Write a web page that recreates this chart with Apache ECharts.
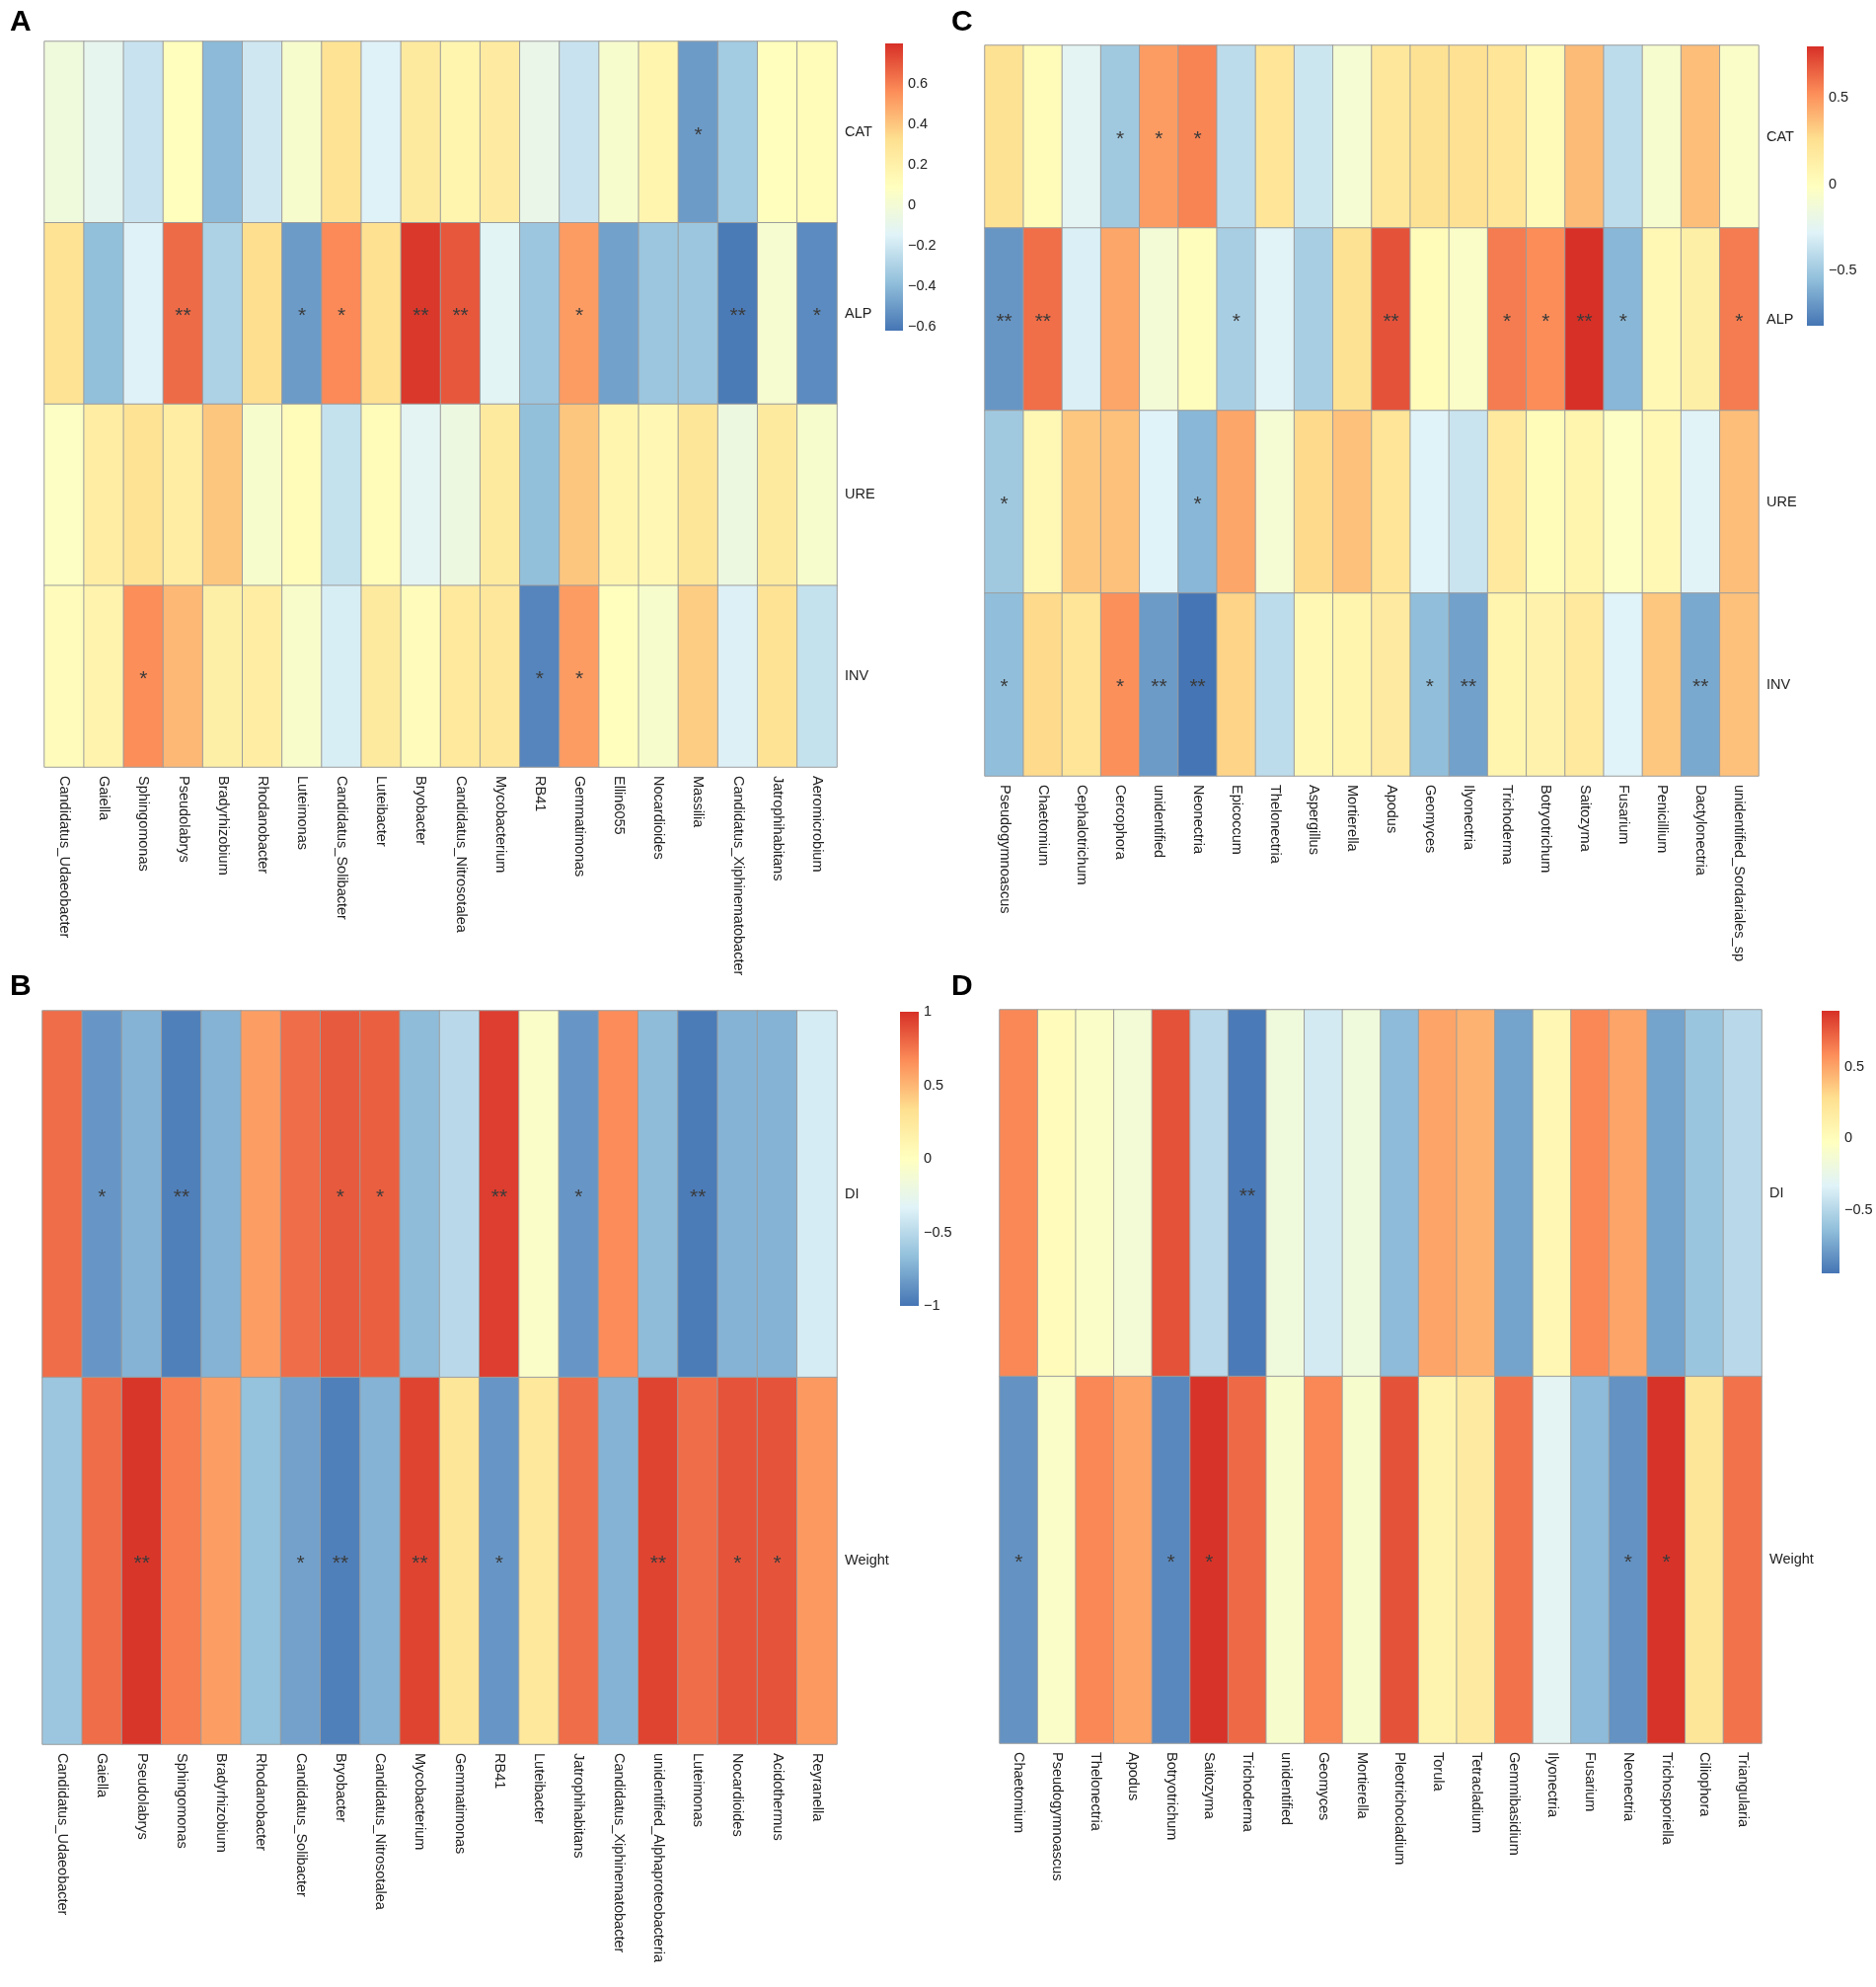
<!DOCTYPE html>
<html>
<head>
<meta charset="utf-8">
<script src="https://cdn.jsdelivr.net/npm/echarts@6/dist/echarts.min.js"></script>
<style>
html,body{margin:0;padding:0;background:#fff;}
#main{width:1901px;height:2013px;}
</style>
</head>
<body>
<div id="main"></div>
<script>
// palette (rev RdYlBu, 7 colours)
var palette = ['#4575B4', '#91BFDB', '#E0F3F8', '#FFFFBF', '#FEE090', '#FC8D59', '#D73027'];

// ---------- panel A : bacteria vs enzymes ----------
var genusA = ['Candidatus_Udaeobacter', 'Gaiella', 'Sphingomonas', 'Pseudolabrys', 'Bradyrhizobium', 'Rhodanobacter',
  'Luteimonas', 'Candidatus_Solibacter', 'Luteibacter', 'Bryobacter', 'Candidatus_Nitrosotalea', 'Mycobacterium',
  'RB41', 'Gemmatimonas', 'Ellin6055', 'Nocardioides', 'Massilia', 'Candidatus_Xiphinematobacter',
  'Jatrophihabitans', 'Aeromicrobium'];
var rowsA = ['CAT', 'ALP', 'URE', 'INV'];
var catA = [-0.03, -0.1, -0.22, 0.1, -0.4, -0.2, 0.03, 0.3, -0.15, 0.25, 0.17, 0.24, -0.08, -0.22, 0.03, 0.17, -0.5, -0.33, 0.1, 0.12];
var alpA = [0.3, -0.38, -0.15, 0.65, -0.3, 0.33, -0.5, 0.57, 0.32, 0.78, 0.7, -0.13, -0.35, 0.52, -0.48, -0.35, -0.35, -0.6, 0.02, -0.55];
var ureA = [0.07, 0.23, 0.3, 0.23, 0.4, 0.03, 0.12, -0.23, 0.12, -0.12, -0.05, 0.25, -0.38, 0.4, 0.17, 0.15, 0.28, -0.05, 0.25, 0.03];
var invA = [0.11, 0.18, 0.56, 0.44, 0.21, 0.23, 0.04, -0.17, 0.25, 0.11, 0.26, 0.27, -0.57, 0.52, 0.1, 0.03, 0.38, -0.16, 0.3, -0.23];
var sigCatA = [0, 0, 0, 0, 0, 0, 0, 0, 0, 0, 0, 0, 0, 0, 0, 0, 1, 0, 0, 0];
var sigAlpA = [0, 0, 0, 2, 0, 0, 1, 1, 0, 2, 2, 0, 0, 1, 0, 0, 0, 2, 0, 1];
var sigUreA = [0, 0, 0, 0, 0, 0, 0, 0, 0, 0, 0, 0, 0, 0, 0, 0, 0, 0, 0, 0];
var sigInvA = [0, 0, 1, 0, 0, 0, 0, 0, 0, 0, 0, 0, 1, 1, 0, 0, 0, 0, 0, 0];
var ticksA = [-0.6, -0.4, -0.2, 0, 0.2, 0.4, 0.6];

// ---------- panel C : fungi vs enzymes ----------
var genusC = ['Pseudogymnoascus', 'Chaetomium', 'Cephalotrichum', 'Cercophora', 'unidentified', 'Neonectria',
  'Epicoccum', 'Thelonectria', 'Aspergillus', 'Mortierella', 'Apodus', 'Geomyces', 'Ilyonectria', 'Trichoderma',
  'Botryotrichum', 'Saitozyma', 'Fusarium', 'Penicillium', 'Dactylonectria', 'unidentified_Sordariales_sp'];
var rowsC = ['CAT', 'ALP', 'URE', 'INV'];
var catC = [0.24, 0.02, -0.25, -0.5, 0.48, 0.56, -0.4, 0.22, -0.35, -0.1, 0.2, 0.24, 0.25, 0.22, 0.03, 0.38, -0.4, -0.08, 0.37, -0.05];
var alpC = [-0.7, 0.62, -0.3, 0.45, -0.12, 0.01, -0.47, -0.27, -0.47, 0.24, 0.7, 0.02, -0.05, 0.58, 0.53, 0.8, -0.58, 0.05, 0.13, 0.58];
var ureC = [-0.5, 0.05, 0.34, 0.36, -0.28, -0.58, 0.45, -0.1, 0.28, 0.36, 0.22, -0.28, -0.36, 0.18, 0.02, 0.08, -0.04, 0.05, -0.27, 0.37];
var invC = [-0.55, 0.28, 0.22, 0.52, -0.68, -0.82, 0.3, -0.4, 0.05, 0.08, 0.17, -0.55, -0.66, 0.08, 0.1, 0.18, -0.28, 0.34, -0.63, 0.36];
var sigCatC = [0, 0, 0, 1, 1, 1, 0, 0, 0, 0, 0, 0, 0, 0, 0, 0, 0, 0, 0, 0];
var sigAlpC = [2, 2, 0, 0, 0, 0, 1, 0, 0, 0, 2, 0, 0, 1, 1, 2, 1, 0, 0, 1];
var sigUreC = [1, 0, 0, 0, 0, 1, 0, 0, 0, 0, 0, 0, 0, 0, 0, 0, 0, 0, 0, 0];
var sigInvC = [1, 0, 0, 1, 2, 2, 0, 0, 0, 0, 0, 1, 2, 0, 0, 0, 0, 0, 2, 0];
var ticksC = [-0.5, 0, 0.5];

// ---------- panel B : bacteria vs DI / weight ----------
var genusB = ['Candidatus_Udaeobacter', 'Gaiella', 'Pseudolabrys', 'Sphingomonas', 'Bradyrhizobium', 'Rhodanobacter',
  'Candidatus_Solibacter', 'Bryobacter', 'Candidatus_Nitrosotalea', 'Mycobacterium', 'Gemmatimonas', 'RB41',
  'Luteibacter', 'Jatrophihabitans', 'Candidatus_Xiphinematobacter', 'unidentified_Alphaproteobacteria',
  'Luteimonas', 'Nocardioides', 'Acidothermus', 'Reyranella'];
var rowsB = ['DI', 'Weight'];
var diB = [0.78, -0.85, -0.72, -0.95, -0.72, 0.6, 0.78, 0.85, 0.83, -0.68, -0.5, 0.95, -0.05, -0.85, 0.67, -0.68, -0.97, -0.72, -0.72, -0.38];
var weightB = [-0.62, 0.78, 0.98, 0.72, 0.6, -0.65, -0.8, -0.95, -0.72, 0.93, 0.27, -0.85, 0.25, 0.78, -0.72, 0.93, 0.78, 0.87, 0.87, 0.62];
var sigDiB = [0, 1, 0, 2, 0, 0, 0, 1, 1, 0, 0, 2, 0, 1, 0, 0, 2, 0, 0, 0];
var sigWeightB = [0, 0, 2, 0, 0, 0, 1, 2, 0, 2, 0, 1, 0, 0, 0, 2, 0, 1, 1, 0];
var ticksB = [-1, -0.5, 0, 0.5, 1];

// ---------- panel D : fungi vs DI / weight ----------
var genusD = ['Chaetomium', 'Pseudogymnoascus', 'Thelonectria', 'Apodus', 'Botryotrichum', 'Saitozyma', 'Trichoderma',
  'unidentified', 'Geomyces', 'Mortierella', 'Pleotrichocladium', 'Torula', 'Tetracladium', 'Gemmibasidium',
  'Ilyonectria', 'Fusarium', 'Neonectria', 'Trichosporiella', 'Ciliophora', 'Triangularia'];
var rowsD = ['DI', 'Weight'];
var diD = [0.6, 0.0, -0.07, -0.15, 0.78, -0.48, -0.92, -0.18, -0.38, -0.18, -0.65, 0.5, 0.45, -0.75, 0.05, 0.6, 0.5, -0.75, -0.6, -0.48];
var weightD = [-0.82, -0.07, 0.6, 0.5, -0.86, 0.88, 0.7, -0.1, 0.6, -0.1, 0.78, 0.08, 0.17, 0.67, -0.3, -0.65, -0.82, 0.88, 0.22, 0.67];
var sigDiD = [0, 0, 0, 0, 0, 0, 2, 0, 0, 0, 0, 0, 0, 0, 0, 0, 0, 0, 0, 0];
var sigWeightD = [1, 0, 0, 0, 1, 1, 0, 0, 0, 0, 0, 0, 0, 0, 0, 0, 1, 1, 0, 0];
var ticksD = [-0.5, 0, 0.5];

var panels = [
  {letter: 'A', genus: genusA, rows: rowsA, vals: [catA, alpA, ureA, invA], sig: [sigCatA, sigAlpA, sigUreA, sigInvA],
   min: -0.62, max: 0.8, ticks: ticksA,
   grid: {left: 45, top: 42, width: 803, height: 735}, bar: {left: 897, top: 44, width: 18, height: 291},
   lx: 10, ly: 8},
  {letter: 'C', genus: genusC, rows: rowsC, vals: [catC, alpC, ureC, invC], sig: [sigCatC, sigAlpC, sigUreC, sigInvC],
   min: -0.82, max: 0.8, ticks: ticksC,
   grid: {left: 998, top: 46, width: 784, height: 740}, bar: {left: 1831, top: 47, width: 17, height: 283},
   lx: 964, ly: 8},
  {letter: 'B', genus: genusB, rows: rowsB, vals: [diB, weightB], sig: [sigDiB, sigWeightB],
   min: -1, max: 1, ticks: ticksB,
   grid: {left: 43, top: 1024, width: 805, height: 743}, bar: {left: 912, top: 1025, width: 19, height: 298},
   lx: 10, ly: 985},
  {letter: 'D', genus: genusD, rows: rowsD, vals: [diD, weightD], sig: [sigDiD, sigWeightD],
   min: -0.94, max: 0.89, ticks: ticksD,
   grid: {left: 1013, top: 1023, width: 772, height: 743}, bar: {left: 1846, top: 1024, width: 18, height: 266},
   lx: 964, ly: 985}
];

var fontFam = '"Liberation Sans", Arial, sans-serif';
function fmtTick(v) {
  var s = String(Math.round(Math.abs(v) * 100) / 100);
  return v < 0 ? '\u2212' + s : s;
}

var option = {
  animation: false,
  backgroundColor: '#fff',
  textStyle: {fontFamily: fontFam},
  title: [], grid: [], xAxis: [], yAxis: [], series: [], visualMap: []
};

panels.forEach(function (p, i) {
  var data = [];
  p.rows.forEach(function (r, ri) {
    p.genus.forEach(function (g, gi) {
      data.push([gi, ri, p.vals[ri][gi], p.sig[ri][gi]]);
    });
  });
  var stops = palette.map(function (c, k) { return {offset: k / (palette.length - 1), color: c}; });

  option.title.push({
    text: p.letter, left: p.lx, top: p.ly, padding: 0,
    textStyle: {fontSize: 30, fontWeight: 'bold', color: '#000', fontFamily: fontFam}
  });

  // heatmap grid
  option.grid.push({left: p.grid.left, top: p.grid.top, width: p.grid.width, height: p.grid.height, containLabel: false});
  option.xAxis.push({
    type: 'category', gridIndex: 2 * i, data: p.genus, position: 'bottom',
    axisLine: {show: false}, axisTick: {show: false}, splitArea: {show: false},
    axisLabel: {interval: 0, rotate: -90, margin: 9, fontSize: 14.5, color: '#222', fontFamily: fontFam}
  });
  option.yAxis.push({
    type: 'category', gridIndex: 2 * i, data: p.rows, position: 'right', inverse: true,
    axisLine: {show: false}, axisTick: {show: false},
    axisLabel: {margin: 8, fontSize: 14.5, color: '#222', fontFamily: fontFam}
  });
  option.series.push({
    type: 'heatmap', xAxisIndex: 2 * i, yAxisIndex: 2 * i, data: data,
    itemStyle: {borderColor: '#9c9c9c', borderWidth: 1},
    emphasis: {disabled: true},
    label: {
      show: true, color: '#3a3a3a', fontSize: 21, fontFamily: fontFam, offset: [0, 3],
      formatter: function (q) { return q.data[3] ? new Array(q.data[3] + 1).join('*') : ''; }
    }
  });
  option.visualMap.push({
    type: 'continuous', show: false, seriesIndex: option.series.length - 1, dimension: 2,
    min: p.min, max: p.max, inRange: {color: palette}
  });

  // colour bar grid
  option.grid.push({left: p.bar.left, top: p.bar.top, width: p.bar.width, height: p.bar.height});
  option.xAxis.push({type: 'value', gridIndex: 2 * i + 1, min: 0, max: 1, show: false});
  option.yAxis.push({
    type: 'value', gridIndex: 2 * i + 1, min: p.min, max: p.max, position: 'right',
    axisLine: {show: false}, axisTick: {show: false}, splitLine: {show: false},
    axisLabel: {customValues: p.ticks, formatter: fmtTick, margin: 5, fontSize: 14.5, color: '#222', fontFamily: fontFam}
  });
  option.series.push({
    type: 'custom', xAxisIndex: 2 * i + 1, yAxisIndex: 2 * i + 1, silent: true,
    data: [[0, p.min, p.max]],
    renderItem: function (params, api) {
      var a = api.coord([0, api.value(1)]);
      var b = api.coord([1, api.value(2)]);
      return {
        type: 'rect',
        shape: {x: a[0], y: b[1], width: b[0] - a[0], height: a[1] - b[1]},
        style: {fill: new echarts.graphic.LinearGradient(0, 1, 0, 0, stops)}
      };
    }
  });
});

var myChart = echarts.init(document.getElementById('main'));
myChart.setOption(option);
</script>
</body>
</html>
